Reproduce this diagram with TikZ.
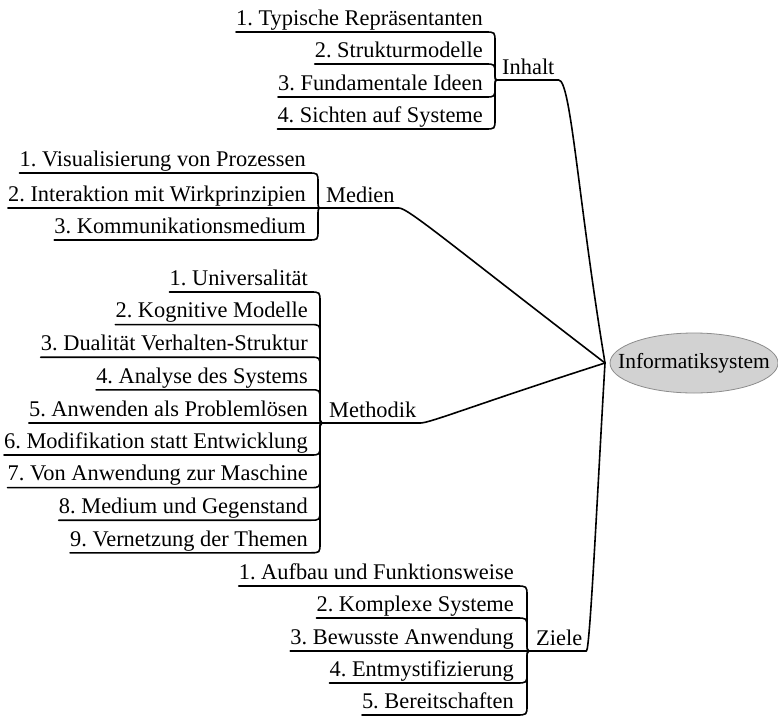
\documentclass[tikz,border=0pt]{standalone}
\usepackage{fontspec}
\setmainfont{Liberation Serif}
\usetikzlibrary{shapes.geometric,calc}
\frenchspacing

\tikzset{
  every node/.style={font=\fontsize{22.4}{27}\selectfont},
  leaf/.style={anchor=south east, inner xsep=0pt, inner ysep=0pt, text depth=6.5pt},
  topic/.style={anchor=south west, inner xsep=4pt, inner ysep=0pt, text depth=5.5pt},
  core/.style={ellipse, fill=gray!35, draw=black!45, line width=0.8pt,
    minimum width=168pt, minimum height=60pt, inner sep=0pt},
  corelabel/.style={font=\fontsize{21.5}{26}\selectfont},
  branch/.style={line width=1.6pt, line cap=round, line join=round},
}

% leaf above its joint: underline, corner, vertical run, brace tip
\newcommand{\twigabove}[3]{%
  \draw[branch] (#1.south west) -- ($(#1.south east)+(2,0)$)
    .. controls (#1.south east -| #2) .. ($(#1.south east -| #2)+(0,10)$)
    -- ($(#2)+(0,-8)$) .. controls (#2) .. (#3);}
% leaf below its joint
\newcommand{\twigbelow}[3]{%
  \draw[branch] (#1.south west) -- ($(#1.south east)+(2,0)$)
    .. controls (#1.south east -| #2) .. ($(#1.south east -| #2)+(0,-10)$)
    -- ($(#2)+(0,8)$) .. controls (#2) .. (#3);}
% leaf level with its joint
\newcommand{\twigstraight}[2]{%
  \draw[branch] (#1.south west) -- (#2);}

\begin{document}
\begin{tikzpicture}[x=1pt,y=-1pt]
\useasboundingbox (0,0) rectangle (778,717);

% centre
\node[core, label={[corelabel]center:Informatiksystem}] (E) at (694,363) {};
\coordinate (hub) at (605,363);

% --- Inhalt ---
\coordinate (J1) at (498,80);
\coordinate (V1) at (495,80);
\node[topic] (T1) at (J1) {Inhalt};
\node[leaf] (i1) at (483,32)  {1. Typische Repräsentanten};
\node[leaf] (i2) at (483,64)  {2. Strukturmodelle};
\node[leaf] (i3) at (483,97)  {3. Fundamentale Ideen};
\node[leaf] (i4) at (483,129) {4. Sichten auf Systeme};
\twigabove{i1}{V1}{J1}
\twigabove{i2}{V1}{J1}
\twigbelow{i3}{V1}{J1}
\twigbelow{i4}{V1}{J1}

% --- Medien ---
\coordinate (J2) at (322,208);
\coordinate (V2) at (318,208);
\node[topic] (T2) at (J2) {Medien};
\node[leaf] (m1) at (306,173) {1. Visualisierung von Prozessen};
\node[leaf] (m2) at (306,208) {2. Interaktion mit Wirkprinzipien};
\node[leaf] (m3) at (306,240) {3. Kommunikationsmedium};
\twigabove{m1}{V2}{J2}
\twigstraight{m2}{J2}
\twigbelow{m3}{V2}{J2}

% --- Methodik ---
\coordinate (J3) at (325,423);
\coordinate (V3) at (320,423);
\node[topic] (T3) at (J3) {Methodik};
\node[leaf] (k1) at (308,292)   {1. Universalität};
\node[leaf] (k2) at (308,324.6) {2. Kognitive Modelle};
\node[leaf] (k3) at (308,357.2) {3. Dualität Verhalten-Struktur};
\node[leaf] (k4) at (308,389.8) {4. Analyse des Systems};
\node[leaf] (k5) at (308,423)   {5. Anwenden als Problemlösen};
\node[leaf] (k6) at (308,455)   {6. Modifikation statt Entwicklung};
\node[leaf] (k7) at (308,487.6) {7. Von Anwendung zur Maschine};
\node[leaf] (k8) at (308,520.2) {8. Medium und Gegenstand};
\node[leaf] (k9) at (308,552.8) {9. Vernetzung der Themen};
\twigabove{k1}{V3}{J3}
\twigabove{k2}{V3}{J3}
\twigabove{k3}{V3}{J3}
\twigabove{k4}{V3}{J3}
\twigstraight{k5}{J3}
\twigbelow{k6}{V3}{J3}
\twigbelow{k7}{V3}{J3}
\twigbelow{k8}{V3}{J3}
\twigbelow{k9}{V3}{J3}

% --- Ziele ---
\coordinate (J4) at (532,651);
\coordinate (V4) at (527,651);
\node[topic] (T4) at (J4) {Ziele};
\node[leaf] (z1) at (514,586) {1. Aufbau und Funktionsweise};
\node[leaf] (z2) at (514,618) {2. Komplexe Systeme};
\node[leaf] (z3) at (514,651) {3. Bewusste Anwendung};
\node[leaf] (z4) at (514,683) {4. Entmystifizierung};
\node[leaf] (z5) at (514,715) {5. Bereitschaften};
\twigabove{z1}{V4}{J4}
\twigabove{z2}{V4}{J4}
\twigstraight{z3}{J4}
\twigbelow{z4}{V4}{J4}
\twigbelow{z5}{V4}{J4}

% topics to the centre
\draw[branch] (T1.south west) -- (T1.south east) .. controls (571,80) and (578,200) .. (hub);
\draw[branch] (T2.south west) -- (T2.south east) .. controls (408,208) and (450,244) .. (hub);
\draw[branch] (T3.south west) -- (T3.south east) .. controls (430,423) and (480,403) .. (hub);
\draw[branch] (T4.south west) -- (T4.south east) .. controls (590,651) and (598,480) .. (hub);

\end{tikzpicture}
\end{document}
